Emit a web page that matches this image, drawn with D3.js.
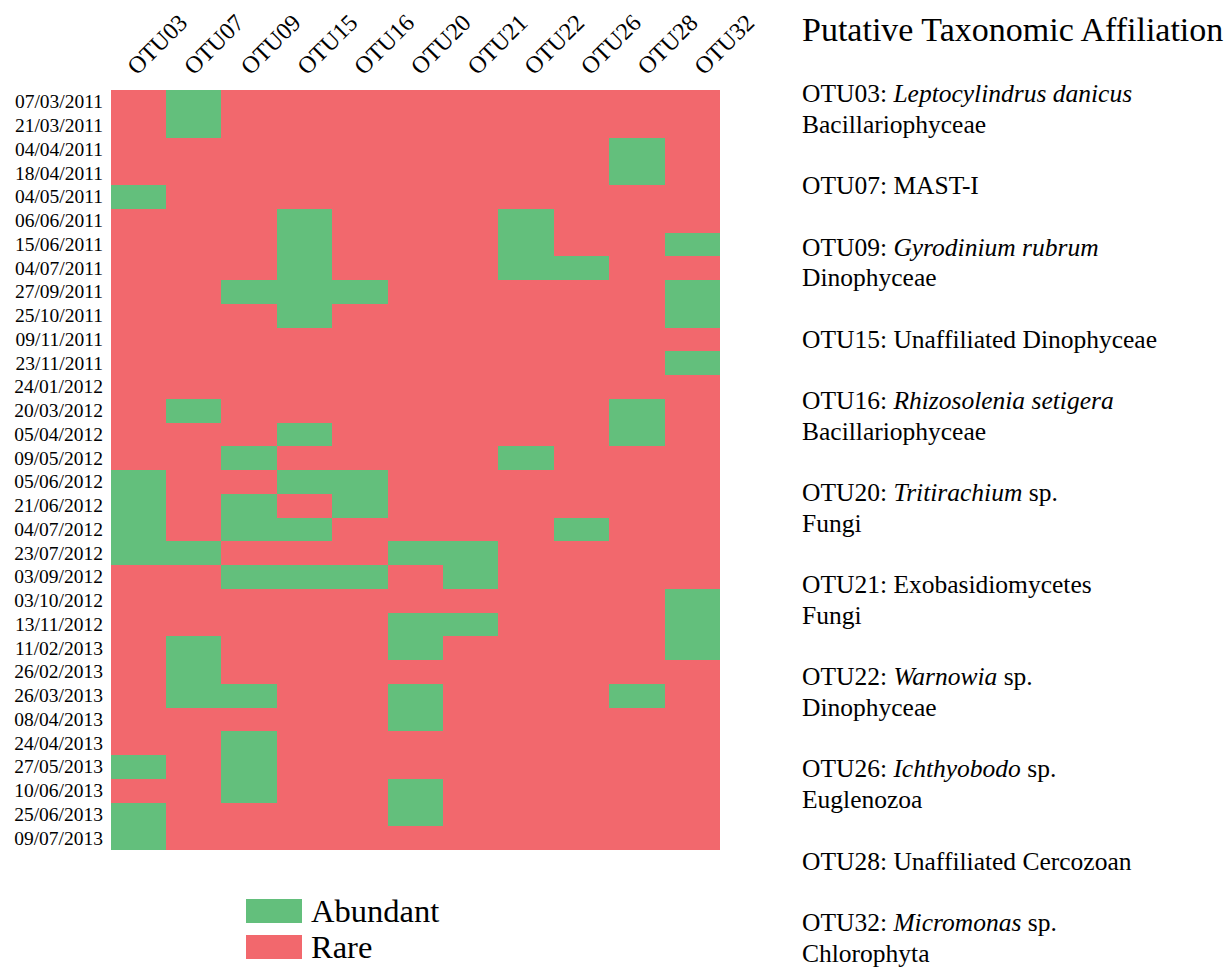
<!DOCTYPE html>
<meta charset="utf-8">
<style>
  body {
    margin: 0;
    background-color: #fff;
  }

  text {
    font-family: "Liberation Serif", "Times New Roman", serif;
    fill: #000;
  }

  .cells rect {
    shape-rendering: crispEdges;
  }
</style>

<body>
  <title>Abundant / rare OTUs</title>
  <div id="container"></div>
  <script src="https://d3js.org/d3.v7.min.js"></script>
  <script>

    var w = 1226;
    var h = 968;

    // sampling dates (rows)
    var dates = [
      "07/03/2011", "21/03/2011", "04/04/2011", "18/04/2011", "04/05/2011",
      "06/06/2011", "15/06/2011", "04/07/2011", "27/09/2011", "25/10/2011",
      "09/11/2011", "23/11/2011", "24/01/2012", "20/03/2012", "05/04/2012",
      "09/05/2012", "05/06/2012", "21/06/2012", "04/07/2012", "23/07/2012",
      "03/09/2012", "03/10/2012", "13/11/2012", "11/02/2013", "26/02/2013",
      "26/03/2013", "08/04/2013", "24/04/2013", "27/05/2013", "10/06/2013",
      "25/06/2013", "09/07/2013"
    ];

    // OTUs (columns)
    var otus = ["OTU03", "OTU07", "OTU09", "OTU15", "OTU16", "OTU20",
      "OTU21", "OTU22", "OTU26", "OTU28", "OTU32"];

    // 1 = abundant, 0 = rare ; one row per date, one value per OTU
    var abundant = [
      [0, 1, 0, 0, 0, 0, 0, 0, 0, 0, 0],
      [0, 1, 0, 0, 0, 0, 0, 0, 0, 0, 0],
      [0, 0, 0, 0, 0, 0, 0, 0, 0, 1, 0],
      [0, 0, 0, 0, 0, 0, 0, 0, 0, 1, 0],
      [1, 0, 0, 0, 0, 0, 0, 0, 0, 0, 0],
      [0, 0, 0, 1, 0, 0, 0, 1, 0, 0, 0],
      [0, 0, 0, 1, 0, 0, 0, 1, 0, 0, 1],
      [0, 0, 0, 1, 0, 0, 0, 1, 1, 0, 0],
      [0, 0, 1, 1, 1, 0, 0, 0, 0, 0, 1],
      [0, 0, 0, 1, 0, 0, 0, 0, 0, 0, 1],
      [0, 0, 0, 0, 0, 0, 0, 0, 0, 0, 0],
      [0, 0, 0, 0, 0, 0, 0, 0, 0, 0, 1],
      [0, 0, 0, 0, 0, 0, 0, 0, 0, 0, 0],
      [0, 1, 0, 0, 0, 0, 0, 0, 0, 1, 0],
      [0, 0, 0, 1, 0, 0, 0, 0, 0, 1, 0],
      [0, 0, 1, 0, 0, 0, 0, 1, 0, 0, 0],
      [1, 0, 0, 1, 1, 0, 0, 0, 0, 0, 0],
      [1, 0, 1, 0, 1, 0, 0, 0, 0, 0, 0],
      [1, 0, 1, 1, 0, 0, 0, 0, 1, 0, 0],
      [1, 1, 0, 0, 0, 1, 1, 0, 0, 0, 0],
      [0, 0, 1, 1, 1, 0, 1, 0, 0, 0, 0],
      [0, 0, 0, 0, 0, 0, 0, 0, 0, 0, 1],
      [0, 0, 0, 0, 0, 1, 1, 0, 0, 0, 1],
      [0, 1, 0, 0, 0, 1, 0, 0, 0, 0, 1],
      [0, 1, 0, 0, 0, 0, 0, 0, 0, 0, 0],
      [0, 1, 1, 0, 0, 1, 0, 0, 0, 1, 0],
      [0, 0, 0, 0, 0, 1, 0, 0, 0, 0, 0],
      [0, 0, 1, 0, 0, 0, 0, 0, 0, 0, 0],
      [1, 0, 1, 0, 0, 0, 0, 0, 0, 0, 0],
      [0, 0, 1, 0, 0, 1, 0, 0, 0, 0, 0],
      [1, 0, 0, 0, 0, 1, 0, 0, 0, 0, 0],
      [1, 0, 0, 0, 0, 0, 0, 0, 0, 0, 0]
    ];

    var legendLabels = ["Abundant", "Rare"];

    // taxonomic affiliation panel: italic name, plain name, second line
    var affilItalic = ["Leptocylindrus danicus", "", "Gyrodinium rubrum", "",
      "Rhizosolenia setigera", "Tritirachium", "", "Warnowia", "Ichthyobodo", "", "Micromonas"];
    var affilPlain = ["", "MAST-I", "", "Unaffiliated Dinophyceae", "", " sp.",
      "Exobasidiomycetes", " sp.", " sp.", "Unaffiliated Cercozoan", " sp."];
    var affilGroup = ["Bacillariophyceae", "", "Dinophyceae", "", "Bacillariophyceae",
      "Fungi", "Fungi", "Dinophyceae", "Euglenozoa", "", "Chlorophyta"];

    var green = "#63bf7c";
    var red = "#f2686d";

    var svg = d3.select("div#container")
      .append("svg")
      .attr("width", w)
      .attr("height", h);

    var x = d3.scaleBand()
      .domain(otus)
      .range([110.7, 720]);

    var y = d3.scaleBand()
      .domain(dates)
      .range([90, 850]);

    // column labels sit a bit wider apart than the cells
    var xLabel = d3.scalePoint()
      .domain(otus)
      .range([137, 704]);

    var color = d3.scaleOrdinal()
      .domain([1, 0])
      .range([green, red]);

    var cells = [];
    dates.forEach(function (dt, i) {
      otus.forEach(function (o, j) {
        cells.push({ date: dt, otu: o, value: abundant[i][j] });
      });
    });

    svg.append("g")
      .attr("class", "cells")
      .selectAll("rect")
      .data(cells)
      .enter().append("rect")
      .attr("x", function (d) { return x(d.otu); })
      .attr("y", function (d) { return y(d.date); })
      .attr("width", x.bandwidth())
      .attr("height", y.bandwidth())
      .attr("fill", function (d) { return color(d.value); });

    // row labels
    svg.append("g")
      .selectAll("text")
      .data(dates)
      .enter().append("text")
      .attr("x", 103)
      .attr("y", function (d) { return y(d) + y.bandwidth() / 2; })
      .attr("dy", "0.33em")
      .attr("text-anchor", "end")
      .style("font-size", "19.5px")
      .text(function (d) { return d; });

    // column labels, rotated
    svg.append("g")
      .selectAll("text")
      .data(otus)
      .enter().append("text")
      .attr("transform", function (d) {
        return "translate(" + xLabel(d) + ",76) rotate(-45)";
      })
      .style("font-size", "24px")
      .text(function (d) { return d; });

    // legend
    var legend = svg.append("g")
      .selectAll("g")
      .data(legendLabels)
      .enter().append("g")
      .attr("transform", function (d, i) {
        return "translate(246," + (899 + i * 36) + ")";
      });

    legend.append("rect")
      .attr("width", 56)
      .attr("height", 24)
      .attr("fill", function (d, i) { return i === 0 ? green : red; });

    legend.append("text")
      .attr("x", 65)
      .attr("y", 23)
      .style("font-size", "32.5px")
      .text(function (d) { return d; });

    // affiliation panel
    svg.append("text")
      .attr("x", 802)
      .attr("y", 41)
      .style("font-size", "34px")
      .text("Putative Taxonomic Affiliation");

    var lineH = 30.7;
    var line = 0;
    var panel = svg.append("g").style("font-size", "25.5px");

    otus.forEach(function (o, i) {
      var t = panel.append("text")
        .attr("x", 802)
        .attr("y", 102 + line * lineH);
      t.append("tspan").text(o + ": ");
      if (affilItalic[i]) {
        t.append("tspan").style("font-style", "italic").text(affilItalic[i]);
      }
      if (affilPlain[i]) {
        t.append("tspan").text(affilPlain[i]);
      }
      line++;
      if (affilGroup[i]) {
        panel.append("text")
          .attr("x", 802)
          .attr("y", 102 + line * lineH)
          .text(affilGroup[i]);
        line++;
      }
      line++;
    });

  </script>
</body>
